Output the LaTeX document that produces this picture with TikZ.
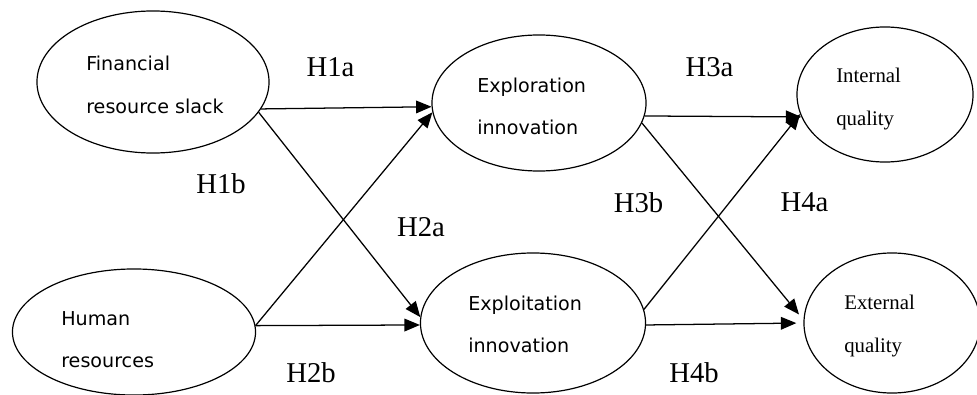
\documentclass[tikz,border=0pt]{standalone}
\usepackage{fontspec}
\setmainfont{Liberation Serif}
\newfontfamily\boxsans{DejaVu Sans}
\usetikzlibrary{arrows.meta, shapes.geometric}

\begin{document}
\begin{tikzpicture}[x=0.025cm, y=-0.025cm,
    oval/.style={draw, ellipse, line width=0.85pt, inner sep=0pt},
    boxtext/.style={font=\boxsans\fontsize{13.6}{30}\selectfont, align=left, anchor=west, inner sep=0pt},
    qualtext/.style={font=\fontsize{14.8}{31}\selectfont, align=left, anchor=west, inner sep=0pt},
    hyp/.style={font=\fontsize{20.4}{24}\selectfont, inner sep=0pt},
    link/.style={-{Triangle[length=11pt, width=9pt]}, line width=0.9pt}]
        \useasboundingbox (0,0) rectangle (977,394);

        % resources
        \node[oval, minimum width=5.8cm, minimum height=3.55cm] (fin) at (153,82) {};
        \node[oval, minimum width=6.075cm, minimum height=3.15cm] (hum) at (134,332) {};
        \node[boxtext] (fintxt) at (86,84.8) {Financial\\resource slack};
        \node[boxtext] (humtxt) at (61,340) {Human\\resources};

        % innovation
        \node[oval, minimum width=5.35cm, minimum height=3.4cm] (explr) at (539,103) {};
        \node[oval, minimum width=5.625cm, minimum height=3.5cm] (explt) at (533,323) {};
        \node[boxtext] (explrtxt) at (477,106) {Exploration\\innovation};
        \node[boxtext] (expltxt) at (468,324.5) {Exploitation\\innovation};

        % quality
        \node[oval, minimum width=4.4cm, minimum height=3.375cm] (intq) at (885,94.5) {};
        \node[oval, minimum width=4.4cm, minimum height=3.5cm] (extq) at (892,323) {};
        \node[qualtext] (inttxt) at (836,99) {Internal\\quality};
        \node[qualtext] (exttxt) at (844,326) {External\\quality};

        % H1a, H1b
        \draw[link] (fin.-14) -- (explr.182);
        \draw[link] (fin.-16) -- (explt.177);
        % H2a, H2b
        \draw[link] (hum.3) -- (explr.185);
        \draw[link] (hum.3) -- (explt.181);
        % H3a, H3b
        \draw[link] (explr.-7) -- (intq.195);
        \draw[link, shorten >=5pt] (explr.-11) -- (extq.178);
        % H4a, H4b
        \draw[link] (explt.7) -- (intq.193);
        \draw[link, shorten >=5pt] (explt.-1) -- (extq.180);

        % hypotheses
        \node[hyp] (h1a) at (330.5,67.5) {H1a};
        \node[hyp] (h1b) at (221,184) {H1b};
        \node[hyp] (h2a) at (421,227.5) {H2a};
        \node[hyp] (h2b) at (311,372.5) {H2b};
        \node[hyp] (h3a) at (709.5,67.5) {H3a};
        \node[hyp] (h3b) at (638.5,202.5) {H3b};
        \node[hyp] (h4a) at (804.5,202.5) {H4a};
        \node[hyp] (h4b) at (694,372.5) {H4b};
\end{tikzpicture}
\end{document}
